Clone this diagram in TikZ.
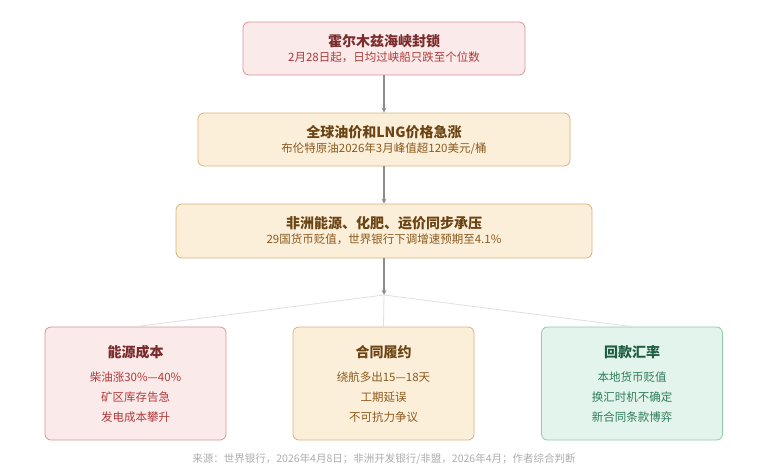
\documentclass[tikz,border=0pt]{standalone}
\usepackage{fontspec}
\setmainfont{Noto Sans CJK SC}
\usetikzlibrary{positioning}
\definecolor{redfill}{HTML}{FBEAEA}
\definecolor{redline}{HTML}{DB9494}
\definecolor{redtitle}{HTML}{7A2B2B}
\definecolor{redtext}{HTML}{B03A3A}
\definecolor{orfill}{HTML}{FCEFDA}
\definecolor{orline}{HTML}{D8B27C}
\definecolor{ortitle}{HTML}{6B4414}
\definecolor{ortext}{HTML}{8B5A1E}
\definecolor{grfill}{HTML}{E2F4EB}
\definecolor{grline}{HTML}{8ECAA9}
\definecolor{grtitle}{HTML}{1F5E43}
\definecolor{grtext}{HTML}{2E7D5B}
\tikzset{
  box/.style={draw, rounded corners=6pt, line width=0.8pt, align=center, inner sep=0pt,
    font=\fontsize{11.5}{14}\selectfont},
  redbox/.style={box, fill=redfill, draw=redline, text=redtext},
  orbox/.style={box, fill=orfill, draw=orline, text=ortext},
  grbox/.style={box, fill=grfill, draw=grline, text=grtext},
  tall/.style={font=\fontsize{11.5}{20}\selectfont, minimum width=181pt, minimum height=113pt},
  arr/.style={-stealth, draw=gray!90, line width=1.2pt},
  link/.style={draw=gray!25, line width=0.8pt}
}
\newcommand{\ttl}[2]{{\fontsize{14}{17}\selectfont\bfseries\color{#1}#2}}
\begin{document}
\begin{tikzpicture}[x=1pt,y=-1pt]
    \useasboundingbox (0,0) rectangle (768,475);
    \node[redbox, minimum width=282pt, minimum height=53pt] (hormuz) at (384,48.5)
      {\ttl{redtitle}{霍尔木兹海峡封锁}\\[1pt] 2月28日起，日均过峡船只跌至个位数};
    \node[orbox, minimum width=372pt, minimum height=53pt] (price) at (384,139.5)
      {\ttl{ortitle}{全球油价和LNG价格急涨}\\[1pt] 布伦特原油2026年3月峰值超120美元/桶};
    \node[orbox, minimum width=416pt, minimum height=54pt] (africa) at (384,231)
      {\ttl{ortitle}{非洲能源、化肥、运价同步承压}\\[1pt] 29国货币贬值，世界银行下调增速预期至4.1\%};
    \coordinate (fork) at (384,295);
    % three impact boxes
    \node[redbox, tall] (energy) at (135.5,383.5)
      {\ttl{redtitle}{能源成本}\\[4pt] 柴油涨30\%—40\%\\矿区库存告急\\发电成本攀升};
    \node[orbox, tall] (contract) at (383.5,383.5)
      {\ttl{ortitle}{合同履约}\\[4pt] 绕航多出15—18天\\工期延误\\不可抗力争议};
    \node[grbox, tall] (payment) at (632,383.5)
      {\ttl{grtitle}{回款汇率}\\[4pt] 本地货币贬值\\换汇时机不确定\\新合同条款博弈};
    \draw[arr] (hormuz) -- (price);
    \draw[arr] (price) -- (africa);
    \draw[arr] (africa) -- (fork);
    \draw[link] (fork) -- (energy.north);
    \draw[link] (fork) -- (contract.north);
    \draw[link] (fork) -- (payment.north);
    \node[text=gray!65, font=\fontsize{10.5}{12}\selectfont] (source) at (384,459)
      {来源：世界银行，2026年4月8日；非洲开发银行/非盟，2026年4月；作者综合判断};
\end{tikzpicture}
\end{document}
